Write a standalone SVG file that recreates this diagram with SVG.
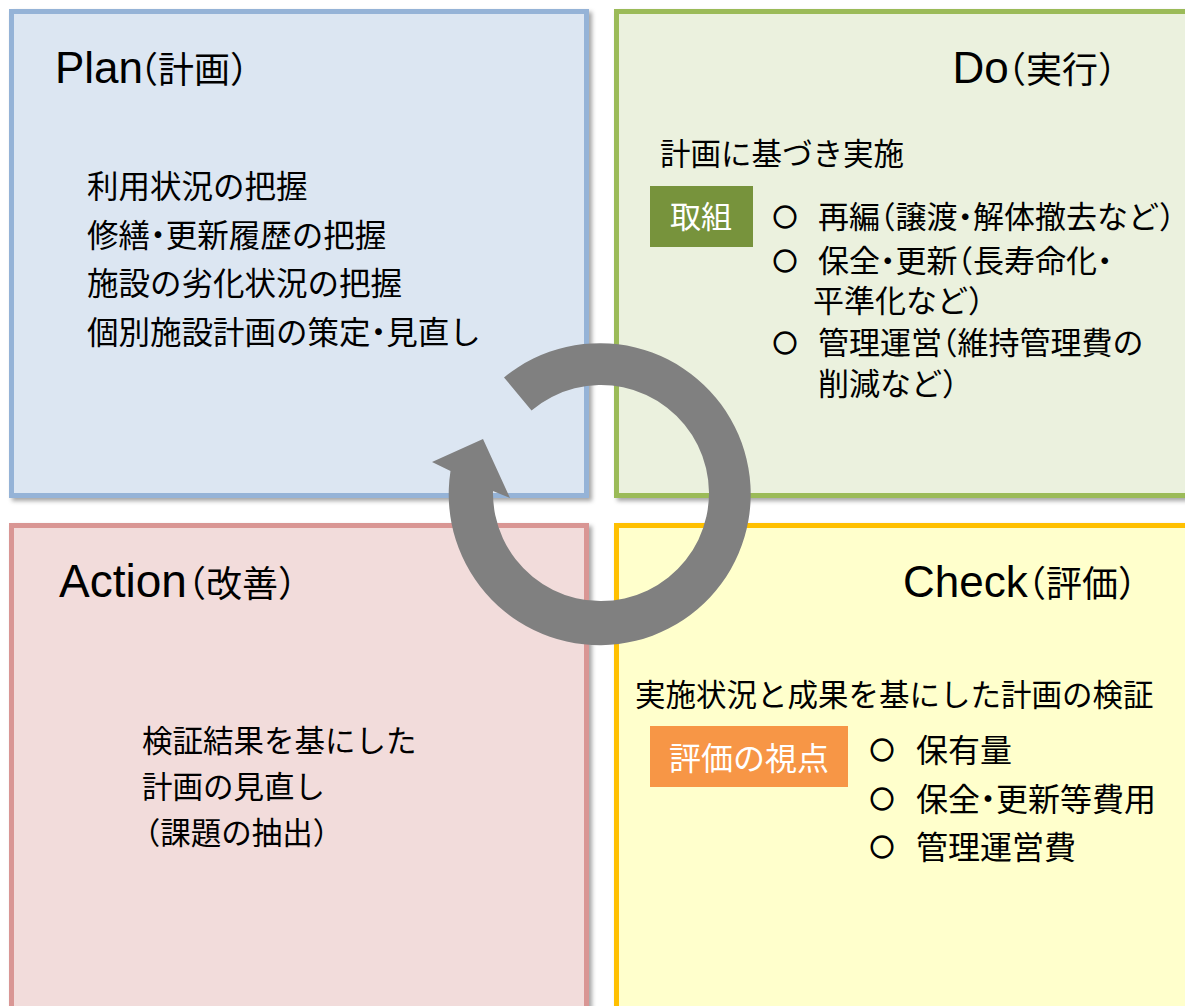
<svg xmlns="http://www.w3.org/2000/svg" width="1185" height="1006" viewBox="0 0 1185 1006">
<defs>
<filter id="sh" x="-5%" y="-5%" width="115%" height="115%">
<feDropShadow dx="3" dy="3" stdDeviation="2" flood-color="#000" flood-opacity="0.35"/>
</filter>
<style>
.box{stroke-width:5;filter:url(#sh)}
text{font-family:"Noto Sans CJK JP","Liberation Sans",sans-serif;fill:#000;font-feature-settings:"halt"}
.hd{font-size:36px}
.lat{font-family:"Liberation Sans","Noto Sans CJK JP",sans-serif;font-size:44px}
.bd{font-size:30.5px}
.pl{font-size:31.5px}
.dl{font-size:31px}
.cl{font-size:32px}
.wt{fill:#fff}
.ci{font-size:24px;font-weight:bold;stroke:#000;stroke-width:1.3}
</style>
</defs>
<g id="plan">
<rect class="box" x="11.5" y="11.5" width="575" height="484" fill="#DCE6F2" stroke="#95B3D7"/>
<text class="hd" x="55" y="83"><tspan class="lat">Plan</tspan><tspan x="140">（計画）</tspan></text>
<text class="pl" x="87" y="198">利用状況の把握</text>
<text class="pl" x="87" y="246.5">修繕・更新履歴の把握</text>
<text class="pl" x="87" y="295">施設の劣化状況の把握</text>
<text class="pl" x="87" y="343.5">個別施設計画の策定・見直し</text>
</g>
<g id="do">
<rect class="box" x="616.5" y="11.5" width="620" height="484" fill="#EBF1DE" stroke="#9BBB59"/>
<text class="hd" x="952.5" y="83"><tspan class="lat">Do</tspan><tspan x="1008">（実行）</tspan></text>
<text class="bd" x="660" y="165">計画に基づき実施</text>
<rect x="650" y="186" width="103" height="61" fill="#77933C"/>
<text class="dl wt" x="670" y="228">取組</text>
<text class="ci" x="773" y="226">○</text>
<text class="dl" x="818" y="228">再編（譲渡・解体撤去など）</text>
<text class="ci" x="773" y="270">○</text>
<text class="dl"><tspan x="818" y="272">保全・更新（長寿命化・</tspan><tspan x="813" y="312">平準化など）</tspan></text>
<text class="ci" x="773" y="352">○</text>
<text class="dl"><tspan x="818" y="354">管理運営（維持管理費の</tspan><tspan x="818" y="395">削減など）</tspan></text>
</g>
<g id="action">
<rect class="box" x="11.5" y="525.5" width="575" height="520" fill="#F2DCDB" stroke="#D99694"/>
<text class="hd" x="59" y="597"><tspan class="lat" style="font-size:46px">Action</tspan><tspan x="188">（改善）</tspan></text>
<text class="bd"><tspan x="142" y="752">検証結果を基にした</tspan><tspan x="142" y="798">計画の見直し</tspan><tspan x="145" y="843.5">（課題の抽出）</tspan></text>
</g>
<g id="check">
<rect class="box" x="616.5" y="525.5" width="620" height="520" fill="#FFFFCC" stroke="#FFC000"/>
<text class="hd" x="903" y="597"><tspan class="lat">Check</tspan><tspan x="1028">（評価）</tspan></text>
<text class="bd" x="635" y="706">実施状況と成果を基にした計画の検証</text>
<rect x="650" y="726" width="198" height="61" fill="#F79646"/>
<text class="cl wt" x="669" y="770">評価の視点</text>
<text class="ci" x="870" y="759">○</text>
<text class="cl" x="916" y="762">保有量</text>
<text class="ci" x="870" y="808">○</text>
<text class="cl" x="916" y="810.5">保全・更新等費用</text>
<text class="ci" x="870" y="856">○</text>
<text class="cl" x="916" y="859">管理運営費</text>
</g>
<g id="connectors">
<path id="cycle" d="M504,377.4 A151,151 0 1 1 450.5,471 L432,462 L483,439 L510,498 L493,491 A108,108 0 1 0 531.5,410.4 Z" fill="#808080"/>
</g>
</svg>
